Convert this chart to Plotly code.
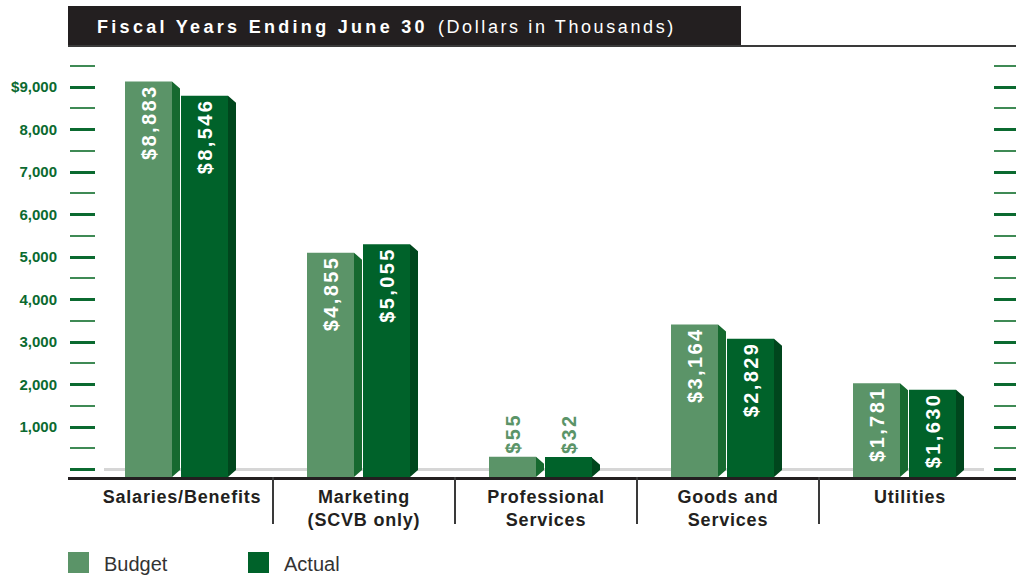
import plotly.graph_objects as go

# ---- data (dollars in thousands) ----
categories = ["Salaries/Benefits", "Marketing<br>(SCVB only)", "Professional<br>Services",
              "Goods and<br>Services", "Utilities"]
budget = [8883, 4855, 55, 3164, 1781]
actual = [8546, 5055, 32, 2829, 1630]
major_ticks = [0, 1000, 2000, 3000, 4000, 5000, 6000, 7000, 8000, 9000]
major_labels = ["", "1,000", "2,000", "3,000", "4,000", "5,000", "6,000", "7,000", "8,000", "$9,000"]
minor_ticks = [500, 1500, 2500, 3500, 4500, 5500, 6500, 7500, 8500, 9500]

# ---- colours ----
BUDGET_FRONT = "#5b9468"
BUDGET_SIDE = "#16692f"
ACTUAL_FRONT = "#00622a"
ACTUAL_SIDE = "#00461d"
DARK = "#231f20"
TICK_GREEN = "#0b6a30"

# ---- page geometry (pixels) ----
W, H = 1016, 578
L, R, T, B = 68, 0, 47, 101
PW, PH = W - L - R, H - T - B
BOTTOM = H - B                      # pixel row of the category axis line

PX_PER_UNIT_X = 182.0               # one category slot
X_RANGE = [(L - 182) / PX_PER_UNIT_X, (W - R - 182) / PX_PER_UNIT_X]
PX_PER_K = 42.5                     # pixels per 1,000 dollars
UNITS_PER_PX = 1000.0 / PX_PER_K

# scale used for the ticks: zero sits on the light floor line
TICK_ZERO_PX = 469.5
TICK_RANGE = [-(BOTTOM - TICK_ZERO_PX) * UNITS_PER_PX, (TICK_ZERO_PX - T) * UNITS_PER_PX]
# scale used for the bar faces (drawn slightly raised, as in a 3-D view)
BAR_ZERO_PX = 459.0
BAR_RANGE = [-(BOTTOM - BAR_ZERO_PX) * UNITS_PER_PX, (BAR_ZERO_PX - T) * UNITS_PER_PX]


def px_x(px):
    return (px - L) / PW


def px_y(py):
    return (BOTTOM - py) / PH


def spaced(text, px):
    return f'<span style="letter-spacing:{px}px">{text}</span>'


FRONT_W = 47 / PX_PER_UNIT_X
SIDE_W = 8 / PX_PER_UNIT_X
SLANT = 7 * UNITS_PER_PX
series = [
    ("Budget", budget, -33.5 / PX_PER_UNIT_X, BUDGET_FRONT, BUDGET_SIDE),
    ("Actual", actual, 22.5 / PX_PER_UNIT_X, ACTUAL_FRONT, ACTUAL_SIDE),
]
idx = list(range(len(categories)))

fig = go.Figure()

for name, vals, off, front, side in series:
    xs = [i + off for i in idx]
    # footing of each column, below the floor line down to the axis
    fig.add_trace(go.Bar(
        x=xs, y=[-BAR_RANGE[0]] * len(vals), base=BAR_RANGE[0], width=FRONT_W,
        marker=dict(color=front, line=dict(width=0)), showlegend=False, hoverinfo="skip"))
    # front faces with the value labels
    fig.add_trace(go.Bar(
        x=xs, y=vals, width=FRONT_W, name=name,
        marker=dict(color=front, line=dict(width=0)),
        text=[spaced(f"${v:,}", 2.4) for v in vals],
        textposition=["inside" if v > 500 else "outside" for v in vals],
        textangle=-90, insidetextanchor="end", constraintext="none",
        insidetextfont=dict(family="Liberation Sans", size=20, color="#ffffff", weight="bold"),
        outsidetextfont=dict(family="Liberation Sans", size=20, color=BUDGET_FRONT, weight="bold"),
        cliponaxis=False, showlegend=False, hoverinfo="skip"))
    # shaded side faces
    px_, py_ = [], []
    for i, v in zip(idx, vals):
        xr = i + off + FRONT_W / 2
        top_r = v - SLANT
        bot_r = BAR_RANGE[0] + SLANT
        if top_r < bot_r:
            top_r = bot_r = (top_r + bot_r) / 2
        px_ += [xr, xr, xr + SIDE_W, xr + SIDE_W, xr, None]
        py_ += [BAR_RANGE[0], v, top_r, bot_r, BAR_RANGE[0], None]
    fig.add_trace(go.Scatter(
        x=px_, y=py_, mode="lines", fill="toself", fillcolor=side,
        line=dict(width=0, color=side), showlegend=False, hoverinfo="skip"))

# carriers for the two tick scales
fig.add_trace(go.Scatter(x=[], y=[], yaxis="y2", showlegend=False, hoverinfo="skip"))
fig.add_trace(go.Scatter(x=[], y=[], yaxis="y3", showlegend=False, hoverinfo="skip"))

tick_common = dict(
    range=TICK_RANGE, overlaying="y", anchor="free", showgrid=False, zeroline=False,
    showline=False, tickmode="array", tickvals=major_ticks, ticks="outside",
    tickwidth=3, tickcolor=TICK_GREEN,
    minor=dict(tickmode="array", tickvals=minor_ticks, ticks="outside",
               tickwidth=1.5, tickcolor="#3f8a55"),
)

fig.update_layout(
    width=W, height=H, margin=dict(l=L, r=R, t=T, b=B, pad=0),
    paper_bgcolor="white", plot_bgcolor="white", barmode="overlay",
    showlegend=False,
    xaxis=dict(range=X_RANGE, tickmode="array", tickvals=idx,
               ticktext=[spaced(c, 0.8) for c in categories],
               showgrid=False, zeroline=False, showline=True, linecolor=DARK, linewidth=3,
               ticks="", ticklabelstandoff=1,
               tickfont=dict(family="Liberation Sans", size=18, color=DARK, weight="bold")),
    yaxis=dict(range=BAR_RANGE, visible=False, fixedrange=True),
    yaxis2=dict(**tick_common, side="left", position=px_x(95), ticklen=25,
                ticktext=major_labels, ticklabelstandoff=10,
                tickfont=dict(family="Liberation Sans", size=15, color=TICK_GREEN, weight="bold")),
    yaxis3=dict(**tick_common, side="right", position=px_x(993), ticklen=23,
                showticklabels=False),
)
fig.layout.yaxis2.minor.ticklen = 25
fig.layout.yaxis3.minor.ticklen = 23

shapes = [
    # light floor line behind the columns
    dict(type="line", xref="paper", yref="y2", x0=px_x(104), x1=px_x(984), y0=0, y1=0,
         line=dict(color="#d6d6d6", width=3), layer="below"),
    # header band and rule
    dict(type="rect", xref="paper", yref="paper", x0=px_x(68), x1=px_x(741),
         y0=px_y(45), y1=px_y(6), fillcolor=DARK, line=dict(width=0)),
    dict(type="line", xref="paper", yref="paper", x0=px_x(68), x1=px_x(W), y0=px_y(46), y1=px_y(46),
         line=dict(color="#3a3a3a", width=2)),
]
# separators between category slots
for i in idx[:-1]:
    shapes.append(dict(type="line", xref="x", yref="paper", x0=i + 0.5, x1=i + 0.5,
                       y0=0, y1=px_y(524), line=dict(color="#3a3a3a", width=2)))

# legend swatches
legend_items = [("Budget", BUDGET_FRONT, 68), ("Actual", ACTUAL_FRONT, 248)]
annotations = [
    dict(xref="paper", yref="paper", x=px_x(95), y=px_y(27), xanchor="left", yanchor="middle",
         showarrow=False,
         text=spaced("<b>Fiscal Years Ending June 30</b>", 3.3) + "  "
              + spaced("(Dollars in Thousands)", 2.6),
         font=dict(family="Liberation Sans", size=18, color="#ffffff")),
]
for label, color, x0 in legend_items:
    shapes.append(dict(type="rect", xref="paper", yref="paper", x0=px_x(x0), x1=px_x(x0 + 21),
                       y0=px_y(573), y1=px_y(552), fillcolor=color, line=dict(width=0)))
    annotations.append(dict(xref="paper", yref="paper", x=px_x(x0 + 34), y=px_y(564),
                            xanchor="left", yanchor="middle", showarrow=False, text=label,
                            font=dict(family="Liberation Sans", size=20, color="#333333")))

fig.update_layout(shapes=shapes, annotations=annotations)

fig.write_html("out.html")
